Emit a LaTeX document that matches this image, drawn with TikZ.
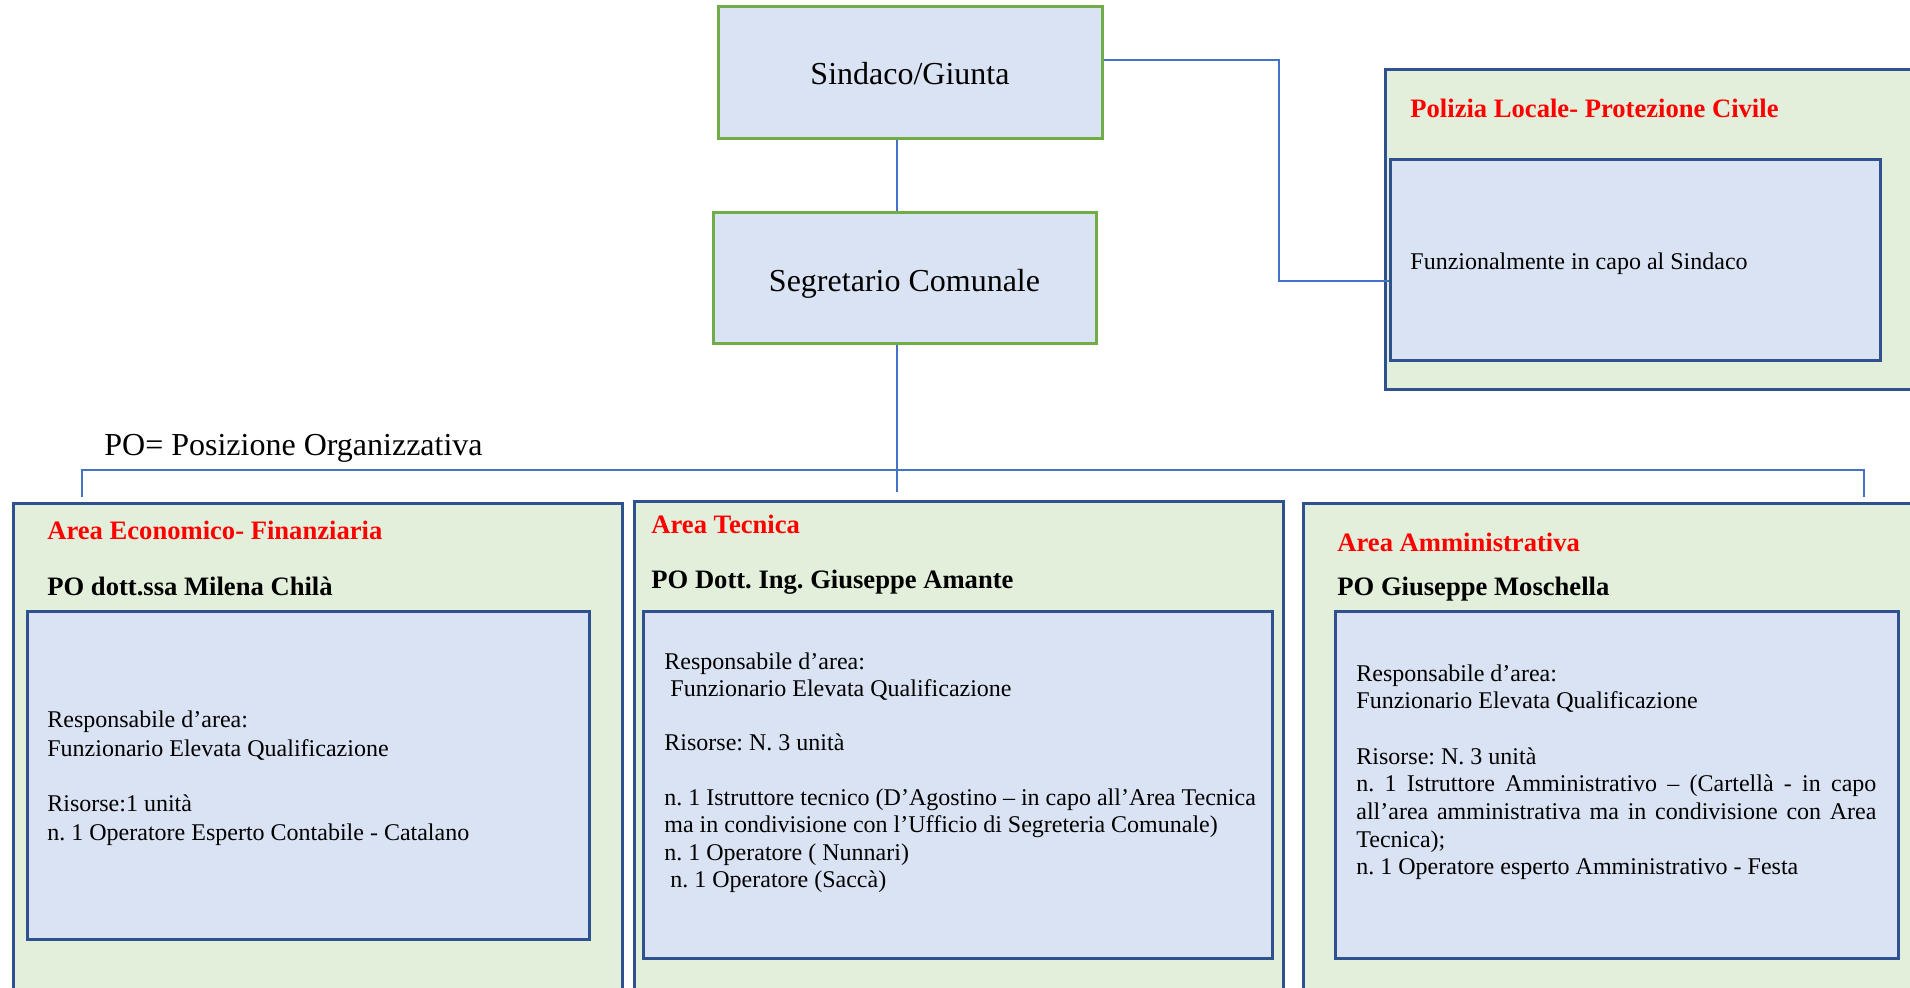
\documentclass[tikz,border=0pt]{standalone}
\usepackage{fontspec}
\setmainfont{Liberation Serif}
\usetikzlibrary{fit}
\frenchspacing
\definecolor{boxblue}{HTML}{DAE3F3}
\definecolor{boxgreen}{HTML}{E2EFDA}
\definecolor{edgegreen}{HTML}{70AD47}
\definecolor{edgeblue}{HTML}{2F528F}
\definecolor{linkblue}{HTML}{4472C4}
\begin{document}
\frenchspacing
\begin{tikzpicture}[x=0.5pt,y=-0.5pt,
  topbox/.style={draw=edgegreen, line width=1.5pt, fill=boxblue, inner sep=0pt},
  areabox/.style={draw=edgeblue, line width=1.5pt, fill=boxgreen, inner sep=0pt},
  innerbox/.style={draw=edgeblue, line width=1.5pt, fill=boxblue, inner sep=0pt},
  conn/.style={draw=linkblue, line width=0.75pt},
  bigtxt/.style={font=\fontsize{16}{19}\selectfont, inner sep=0pt, anchor=base},
  titletxt/.style={font=\fontsize{13.3}{16}\selectfont\bfseries, text=red, inner sep=0pt, anchor=base west},
  nametxt/.style={font=\fontsize{13.3}{16}\selectfont\bfseries, inner sep=0pt, anchor=base west},
  bodytxt/.style={font=\fontsize{12}{14.5}\selectfont, inner sep=0pt, anchor=base west}]
\useasboundingbox (0,0) rectangle (1910,987);
\clip (0,0) rectangle (1910,987);
\fill[white] (0,0) rectangle (1910,987);

% boxes
\node[topbox, fit={(718,6)(1102,138)}] (sind) {};
\node[topbox, fit={(713,212)(1096,343)}] (seg) {};
\node[areabox, fit={(1385,69)(1940,389)}] (pol) {};
\node[innerbox, fit={(1390,159)(1880,360)}] (polin) {};
\node[areabox, fit={(13,503)(622,1010)}] (aef) {};
\node[innerbox, fit={(27,611)(589,939)}] (aefin) {};
\node[areabox, fit={(634,501)(1283,1010)}] (at) {};
\node[innerbox, fit={(643,611)(1272,958)}] (atin) {};
\node[areabox, fit={(1303,503)(1940,1010)}] (aa) {};
\node[innerbox, fit={(1335,611)(1898,958)}] (aain) {};

% connectors
\coordinate (trunk) at (897,0);
\coordinate (sjy) at (0,60);
\coordinate (bendx) at (1279,0);
\coordinate (ply) at (0,281);
\coordinate (busL) at (82,470);
\coordinate (busR) at (1864,470);
\coordinate (dropL) at (82,497);
\coordinate (dropR) at (1864,497);
\coordinate (dropC) at (897,492);
\draw[conn] (sind.south -| trunk) -- (seg.north -| trunk);
\draw[conn] (sind.east |- sjy) -- (bendx |- sjy) -- (bendx |- ply) -- (polin.west |- ply);
\draw[conn] (seg.south -| trunk) -- (dropC);
\draw[conn] (dropL) -- (busL) -- (busR) -- (dropR);

% texts
\node[bigtxt] (sindt) at (910,84) {Sindaco/Giunta};
\node[bigtxt] (segt) at (904.5,291) {Segretario Comunale};
\node[font=\fontsize{16}{19}\selectfont, inner sep=0pt, anchor=base west] (pot) at (104,455) {PO= Posizione Organizzativa};

\node[titletxt] (polt) at (1410,117) {Polizia Locale- Protezione Civile};
\node[bodytxt] (polb) at (1410,269) {Funzionalmente in capo al Sindaco};

\node[titletxt] (aeft) at (47,539) {Area Economico- Finanziaria};
\node[nametxt] (aefn) at (47,595) {PO dott.ssa Milena Chilà};
\node[bodytxt] (aefb) at (47,727) {\begin{tabular}[t]{@{}l@{}}Responsabile d’area:\\ Funzionario Elevata Qualificazione\\[-1.5pt] \\ Risorse:1 unità\\ n. 1 Operatore Esperto Contabile - Catalano\end{tabular}};

\node[titletxt] (att) at (651,533) {Area Tecnica};
\node[nametxt] (atn) at (651,588) {PO Dott. Ing. Giuseppe Amante};
\node[bodytxt, font=\fontsize{12}{13.65}\selectfont] (atb) at (664,669) {\begin{tabular}[t]{@{}l@{}}Responsabile d’area:\\ \ Funzionario Elevata Qualificazione\\ \\ Risorse: N. 3 unità\\ \\ n. 1 Istruttore tecnico (D’Agostino – in capo all’Area Tecnica\\ ma in condivisione con l’Ufficio di Segreteria Comunale)\\ n. 1 Operatore ( Nunnari)\\ \ n. 1 Operatore (Saccà)\end{tabular}};

\node[titletxt] (aat) at (1337,551) {Area Amministrativa};
\node[nametxt] (aan) at (1337,595) {PO Giuseppe Moschella};
\node[bodytxt, font=\fontsize{12}{13.85}\selectfont] (aab) at (1356,681) {\begin{tabular}[t]{@{}l@{}}Responsabile d’area:\\ Funzionario Elevata Qualificazione\\ \\ Risorse: N. 3 unità\\ \makebox[260pt][s]{n. 1 Istruttore Amministrativo – (Cartellà - in capo}\\ \makebox[260pt][s]{all’area amministrativa ma in condivisione con Area}\\ Tecnica);\\ n. 1 Operatore esperto Amministrativo - Festa\end{tabular}};
\end{tikzpicture}
\end{document}
